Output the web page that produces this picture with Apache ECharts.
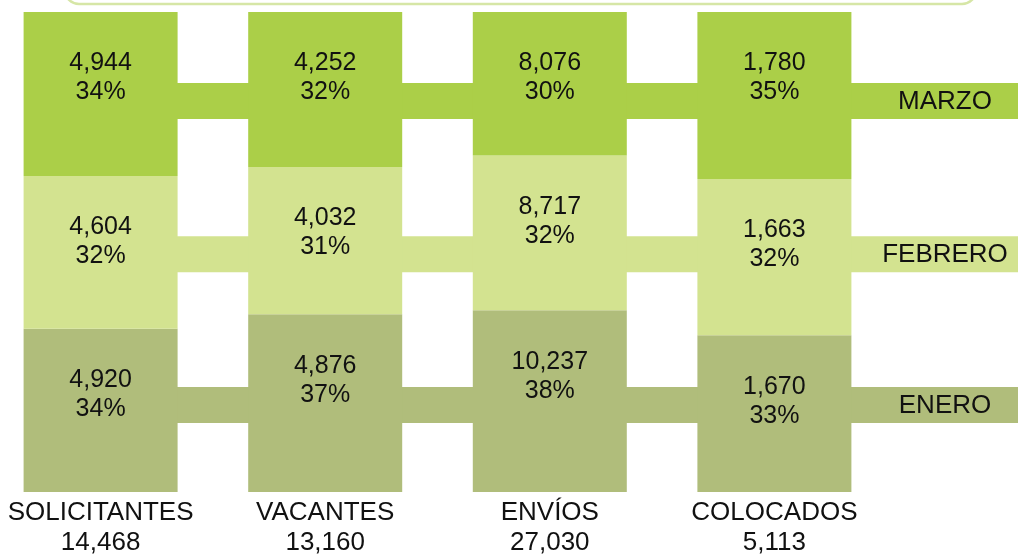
<!DOCTYPE html>
<html>
<head>
<meta charset="utf-8">
<script src="https://cdn.jsdelivr.net/npm/echarts@6/dist/echarts.min.js"></script>
<style>
  html, body { margin: 0; padding: 0; background: #ffffff; }
  #chart { width: 1018px; height: 554px; }
</style>
</head>
<body>
<div id="chart"></div>
<script>
// ---- data ----
const categories = ['SOLICITANTES', 'VACANTES', 'ENVÍOS', 'COLOCADOS'];
const totals = [14468, 13160, 27030, 5113];
const months = ['ENERO', 'FEBRERO', 'MARZO'];
const enero = [4920, 4876, 10237, 1670];
const febrero = [4604, 4032, 8717, 1663];
const marzo = [4944, 4252, 8076, 1780];
const eneroPct = [34, 37, 38, 33];
const febreroPct = [32, 31, 32, 32];
const marzoPct = [34, 32, 30, 35];

// ---- layout / style constants ----
const FONT = '"Liberation Sans", Arial, Helvetica, sans-serif';
const COLORS = { ENERO: '#b0bd7b', FEBRERO: '#d3e390', MARZO: '#abcf48' };
// connector bands, in % units of the value axis (lower, upper)
const BAND_RANGES = { ENERO: [14.4, 21.9], FEBRERO: [45.8, 53.3], MARZO: [77.7, 85.2] };
const MONTH_LABEL_FROM_RIGHT = 73;

const fmt = v => v.toLocaleString('en-US');
const share = (arr) => arr.map((v, i) => v / totals[i] * 100);

const monthData = { ENERO: enero, FEBRERO: febrero, MARZO: marzo };
const monthPct = { ENERO: eneroPct, FEBRERO: febreroPct, MARZO: marzoPct };

const chart = echarts.init(document.getElementById('chart'), null, { renderer: 'canvas' });

const barSeries = months.map(m => ({
  name: m,
  type: 'bar',
  stack: 'total',
  barWidth: 154,
  z: 3,
  data: share(monthData[m]),
  itemStyle: { color: COLORS[m] },
  label: {
    show: true,
    position: 'insideTop',
    distance: 37,
    fontFamily: FONT,
    fontSize: 25,
    lineHeight: 29,
    color: '#111',
    align: 'center',
    formatter: p => fmt(monthData[m][p.dataIndex]) + '\n' + monthPct[m][p.dataIndex] + '%'
  },
  emphasis: { disabled: true },
  animation: false
}));

const bandSeries = {
  type: 'custom',
  z: 1,
  silent: true,
  animation: false,
  data: months.map((m, i) => [i]),
  renderItem: (params, api) => {
    const m = months[api.value(0)];
    const [lo, hi] = BAND_RANGES[m];
    const pLo = api.coord([0, lo]);
    const pHi = api.coord([0, hi]);
    const x0 = pLo[0];
    const x1 = api.getWidth();
    return {
      type: 'group',
      children: [
        {
          type: 'rect',
          shape: { x: x0, y: pHi[1], width: x1 - x0, height: pLo[1] - pHi[1] },
          style: { fill: COLORS[m] }
        },
        {
          type: 'text',
          style: {
            x: x1 - MONTH_LABEL_FROM_RIGHT,
            y: (pLo[1] + pHi[1]) / 2 + 1,
            text: m,
            fill: '#111',
            font: '26px ' + FONT,
            textAlign: 'center',
            textVerticalAlign: 'middle'
          }
        }
      ]
    };
  }
};

chart.setOption({
  backgroundColor: '#ffffff',
  animation: false,
  grid: { left: -11.7, right: 131.3, top: 12, bottom: 62, outerBoundsMode: 'none', containLabel: false },
  xAxis: {
    type: 'category',
    data: categories,
    axisLine: { show: false },
    axisTick: { show: false },
    splitLine: { show: false },
    axisLabel: {
      margin: 6,
      fontFamily: FONT,
      fontSize: 26,
      lineHeight: 30,
      color: '#111',
      interval: 0,
      formatter: (v, i) => v + '\n' + fmt(totals[i])
    }
  },
  yAxis: {
    type: 'value',
    min: 0,
    max: 100,
    show: false,
    splitLine: { show: false }
  },
  graphic: [
    {
      type: 'rect',
      silent: true,
      shape: { x: 65, y: -40, width: 911, height: 44, r: 14 },
      style: { fill: 'none', stroke: '#d6e6a6', lineWidth: 2.5 }
    }
  ],
  series: [bandSeries].concat(barSeries)
});
</script>
</body>
</html>
